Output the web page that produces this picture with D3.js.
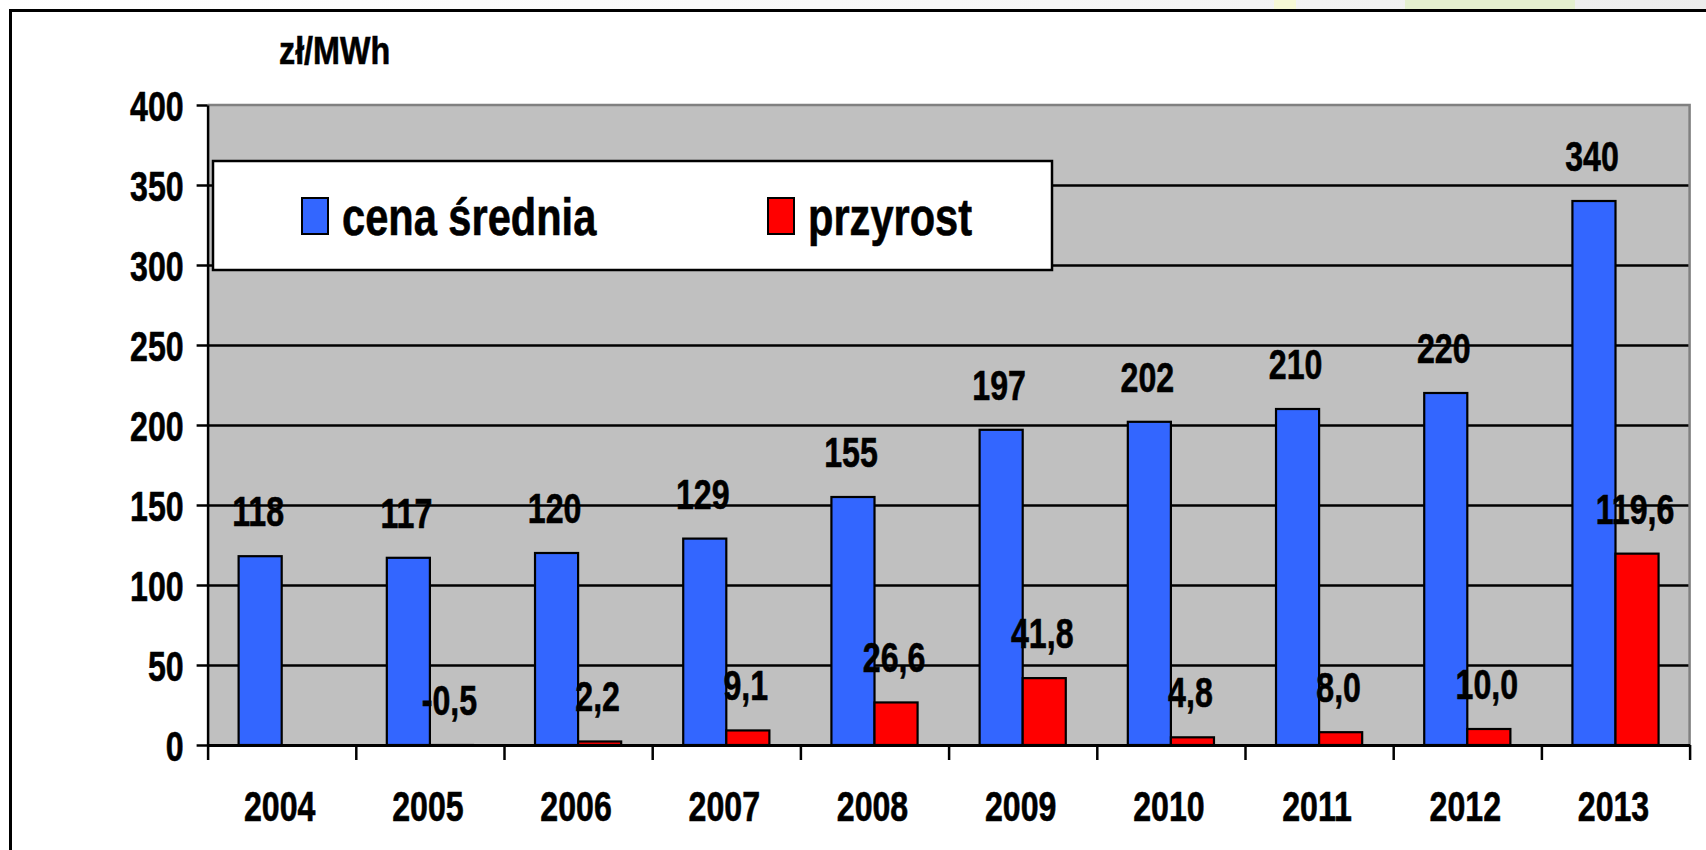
<!DOCTYPE html>
<html>
  <head>
    <meta charset="utf-8">
    <title>cena średnia energii</title>
    <style>
      body { margin: 0; background: #fff; }
      text { font-family: "Liberation Sans", Arial, sans-serif; font-weight: bold; fill: #000; stroke: #000; stroke-width: 0.6px; }
    </style>
  </head>
  <body>
    <div id="container"></div>
    <script src="https://cdn.jsdelivr.net/npm/d3@7"></script>
    <script>
      // data
      var years = ["2004","2005","2006","2007","2008","2009","2010","2011","2012","2013"];
      var cena = [118, 117, 120, 129, 155, 197, 202, 210, 220, 340];
      var przyrost = [null, -0.5, 2.2, 9.1, 26.6, 41.8, 4.8, 8.0, 10.0, 119.6];
      var cenaLabels = ["118","117","120","129","155","197","202","210","220","340"];
      var przyrostLabels = ["","-0,5","2,2","9,1","26,6","41,8","4,8","8,0","10,0","119,6"];
      var seriesNames = ["cena średnia", "przyrost"];
      var seriesColors = ["#3366FF", "#FF0000"];
      var yTicks = [0, 50, 100, 150, 200, 250, 300, 350, 400];
      var unit = "zł/MWh";

      var W = 1706, H = 850;
      var plot = {left: 207.6, right: 1689.6, top: 105, bottom: 745};
      var sx = 0.765; // narrow look of the original font

      var svg = d3.select("#container").append("svg")
        .attr("width", W).attr("height", H);

      // faint strip above the frame (remains of the slide background)
      var defs = svg.append("defs");
      var gr = defs.append("linearGradient").attr("id", "strip");
      gr.append("stop").attr("offset", "0%").attr("stop-color", "#ffffff");
      gr.append("stop").attr("offset", "62%").attr("stop-color", "#f6f6f6");
      gr.append("stop").attr("offset", "100%").attr("stop-color", "#ececec");
      svg.append("rect").attr("x", 0).attr("y", 0).attr("width", W).attr("height", 9).attr("fill", "url(#strip)");
      svg.append("rect").attr("x", 1405).attr("y", 0).attr("width", 170).attr("height", 9).attr("fill", "#e4efcf");
      svg.append("rect").attr("x", 1274).attr("y", 0).attr("width", 22).attr("height", 9).attr("fill", "#f6f8d6");

      // outer frame
      svg.append("rect")
        .attr("x", 10.5).attr("y", 10.5).attr("width", W + 20).attr("height", H + 20)
        .attr("fill", "#fff").attr("stroke", "#000").attr("stroke-width", 3);

      var x = d3.scaleBand().domain(years).range([plot.left, plot.right]).padding(0);
      var xs = d3.scaleBand().domain([0, 1]).range([0, x.bandwidth()]).paddingInner(0).paddingOuter(0.72);
      var xb = d3.scaleLinear().domain([0, years.length]).range([plot.left, plot.right]);
      var y = d3.scaleLinear().domain([0, 400]).range([plot.bottom, plot.top]);

      // plot background
      svg.append("rect")
        .attr("x", plot.left).attr("y", plot.top)
        .attr("width", plot.right - plot.left).attr("height", plot.bottom - plot.top)
        .attr("fill", "#C0C0C0");

      // gridlines
      svg.append("g")
        .attr("transform", "translate(" + plot.left + ",0)")
        .call(d3.axisLeft(y).tickValues(yTicks.slice(1, -1)).tickSize(-(plot.right - plot.left)).tickFormat(""))
        .call(function(g) { g.select(".domain").remove(); })
        .selectAll("line").attr("stroke", "#000").attr("stroke-width", 2.5);

      // gray top / right border of plot area
      svg.append("path")
        .attr("d", "M" + plot.left + "," + plot.top + "H" + plot.right + "V" + plot.bottom)
        .attr("fill", "none").attr("stroke", "#808080").attr("stroke-width", 2.5);

      // bars
      var rows = years.map(function(yr, i) { return {year: yr, v: [cena[i], przyrost[i]], l: [cenaLabels[i], przyrostLabels[i]]}; });
      var groups = svg.selectAll("g.year").data(rows).enter().append("g")
        .attr("class", "year")
        .attr("transform", function(d) { return "translate(" + x(d.year) + ",0)"; });

      groups.selectAll("rect").data(function(d) { return d.v.map(function(v, k) { return {v: v, k: k}; }).filter(function(e) { return e.v != null; }); })
        .enter().append("rect")
        .attr("x", function(d) { return xs(d.k); })
        .attr("width", xs.bandwidth())
        .attr("y", function(d) { return y(Math.max(d.v, 0)); })
        .attr("height", function(d) { return Math.abs(y(0) - y(d.v)); })
        .attr("fill", function(d) { return seriesColors[d.k]; })
        .attr("stroke", "#000").attr("stroke-width", 2.2);

      // value labels
      groups.selectAll("text.val").data(function(d) { return d.v.map(function(v, k) { return {v: v, k: k, l: d.l[k]}; }).filter(function(e) { return e.v != null; }); })
        .enter().append("text")
        .attr("class", "val")
        .attr("text-anchor", "middle")
        .attr("font-size", 42)
        .attr("transform", function(d) {
          return "translate(" + (xs(d.k) + xs.bandwidth() / 2 - 2) + "," + (y(Math.max(d.v, 0)) - 30) + ") scale(" + sx + ",1)";
        })
        .text(function(d) { return d.l; });

      // y axis
      var yAxis = svg.append("g")
        .attr("transform", "translate(" + plot.left + ",0)")
        .call(d3.axisLeft(y).tickValues(yTicks).tickSize(11).tickSizeOuter(0));
      yAxis.select(".domain").attr("stroke", "#000").attr("stroke-width", 2.5);
      yAxis.selectAll("line").attr("stroke", "#000").attr("stroke-width", 2.5);
      yAxis.selectAll("text")
        .attr("font-size", 42).attr("fill", "#000")
        .attr("x", -24 / sx).attr("dy", null).attr("y", 15)
        .attr("transform", "scale(" + sx + ",1)");

      // x axis: ticks on category boundaries
      var xTickAxis = svg.append("g")
        .attr("transform", "translate(0," + plot.bottom + ")")
        .call(d3.axisBottom(xb).ticks(years.length).tickSize(15).tickSizeOuter(0).tickFormat(""));
      xTickAxis.select(".domain").attr("stroke", "#000").attr("stroke-width", 3);
      xTickAxis.selectAll("line").attr("stroke", "#000").attr("stroke-width", 2.5);

      // x axis labels in category centres
      var xLab = svg.append("g")
        .attr("transform", "translate(0," + plot.bottom + ")")
        .call(d3.axisBottom(x).tickSize(0));
      xLab.select(".domain").remove();
      xLab.selectAll("text")
        .attr("font-size", 42).attr("fill", "#000")
        .attr("dy", null).attr("y", 76)
        .attr("transform", "scale(" + sx + ",1)")
        .each(function() {
          // nudge like the original labels
          var g = d3.select(this.parentNode);
          var m = /translate\(([-\d.]+)/.exec(g.attr("transform"));
          g.attr("transform", "translate(" + (+m[1] - 2) + ",0)");
        });

      // unit label
      svg.append("text")
        .attr("font-size", 38)
        .attr("transform", "translate(279,64) scale(0.85,1)")
        .text(unit);

      // legend
      var leg = svg.append("g");
      leg.append("rect")
        .attr("x", 213).attr("y", 161).attr("width", 839).attr("height", 109)
        .attr("fill", "#fff").attr("stroke", "#000").attr("stroke-width", 2.5);
      var legX = [302, 768];
      var legItems = leg.selectAll("g.item").data(seriesNames).enter().append("g")
        .attr("class", "item")
        .attr("transform", function(d, i) { return "translate(" + legX[i] + ",0)"; });
      legItems.append("rect")
        .attr("x", 0).attr("y", 198).attr("width", 26).attr("height", 36)
        .attr("fill", function(d, i) { return seriesColors[i]; })
        .attr("stroke", "#000").attr("stroke-width", 2);
      legItems.append("text")
        .attr("font-size", 52)
        .attr("transform", "translate(40,235) scale(0.8,1)")
        .text(function(d) { return d; });
    </script>
  </body>
</html>
